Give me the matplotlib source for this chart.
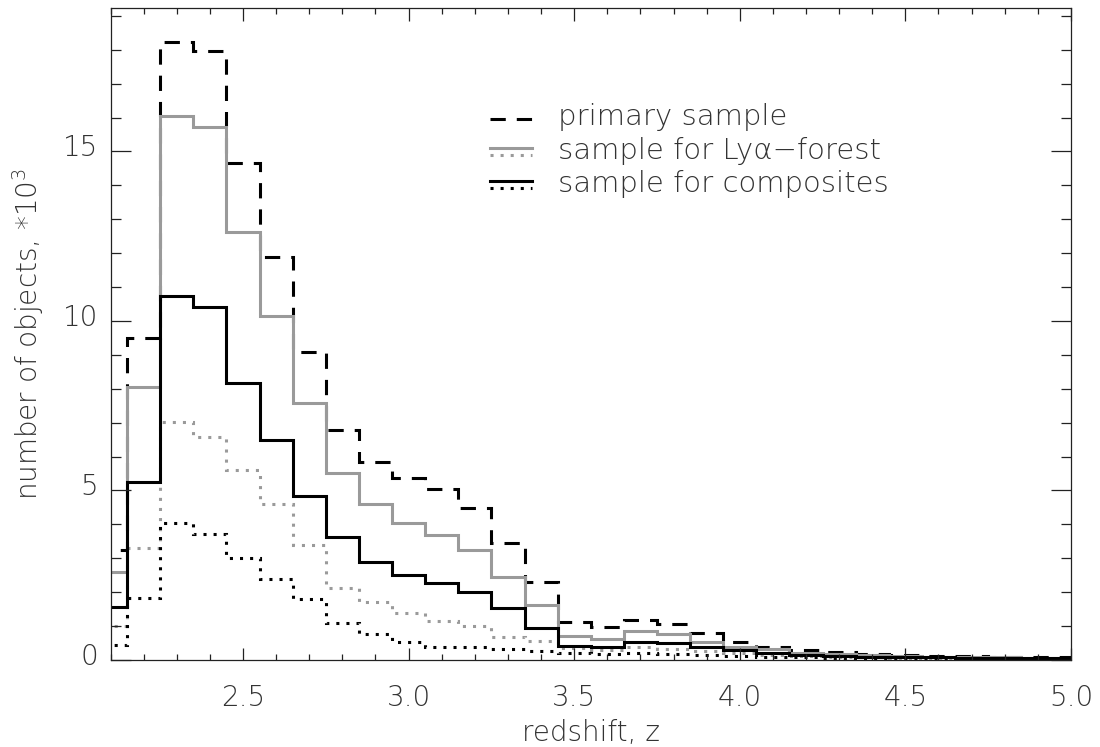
import numpy as np
import matplotlib
matplotlib.use("Agg")
import matplotlib.pyplot as plt
import matplotlib.transforms as mtransforms
from matplotlib.lines import Line2D

plt.rcParams['font.family'] = ['DejaVu Sans']
plt.rcParams['font.weight'] = 'light'
plt.rcParams['axes.labelweight'] = 'light'
plt.rcParams['mathtext.fontset'] = 'dejavusans'

# bin edges in redshift (0.1 wide), values in thousands of objects
edges = np.round(np.arange(2.05, 5.06, 0.1), 2)

primary = [3.25, 9.49, 18.24, 17.96, 14.65, 11.9, 9.07, 6.78, 5.83, 5.36,
           5.03, 4.47, 3.44, 2.31, 1.13, 0.96, 1.18, 1.06, 0.79, 0.53,
           0.39, 0.29, 0.23, 0.18, 0.15, 0.13, 0.11, 0.10, 0.09, 0.08]
lya_forest = [2.6, 8.06, 16.05, 15.71, 12.62, 10.15, 7.59, 5.51, 4.59, 4.03,
              3.69, 3.24, 2.44, 1.62, 0.72, 0.63, 0.86, 0.77, 0.54, 0.39,
              0.31, 0.22, 0.17, 0.14, 0.12, 0.10, 0.09, 0.08, 0.07, 0.06]
lya_forest_dot = [1.0, 3.29, 7.03, 6.59, 5.60, 4.59, 3.39, 2.13, 1.72, 1.40,
                  1.16, 1.01, 0.69, 0.57, 0.35, 0.30, 0.39, 0.33, 0.27, 0.20,
                  0.16, 0.12, 0.10, 0.08, 0.07, 0.06, 0.05, 0.05, 0.04, 0.04]
composites = [1.55, 5.24, 10.74, 10.42, 8.16, 6.49, 4.85, 3.62, 2.90, 2.51,
              2.26, 2.0, 1.52, 0.93, 0.41, 0.37, 0.54, 0.49, 0.39, 0.29,
              0.22, 0.16, 0.12, 0.10, 0.09, 0.08, 0.07, 0.06, 0.05, 0.05]
composites_dot = [0.45, 1.84, 4.03, 3.72, 3.02, 2.39, 1.79, 1.08, 0.77, 0.52,
                  0.39, 0.39, 0.32, 0.25, 0.20, 0.18, 0.20, 0.18, 0.15, 0.12,
                  0.10, 0.08, 0.07, 0.06, 0.05, 0.05, 0.04, 0.04, 0.03, 0.03]

legend_labels = ['primary sample', 'sample for Ly\u03b1\u2212forest',
                 'sample for composites']

gray = '#9a9a9a'
txtc = '#333333'
lw = 2.2
dash = (0, (5.0, 3.6))
dot = (0, (1.0, 2.3))

fig = plt.figure(figsize=(11, 7.47), dpi=100)
ax = fig.add_axes([0.1005, 0.1165, 0.8731, 0.8728])

ax.stairs(primary, edges, baseline=None, color='black', lw=lw, linestyle=dash)
ax.stairs(lya_forest, edges, baseline=None, color=gray, lw=lw)
ax.stairs(lya_forest_dot, edges, baseline=None, color=gray, lw=lw, linestyle=dot)
ax.stairs(composites, edges, baseline=None, color='black', lw=lw)
ax.stairs(composites_dot, edges, baseline=None, color='black', lw=lw, linestyle=dot)

ax.set_xlim(2.1, 5.0)
ax.set_ylim(0, 19.23)

ax.set_xticks([2.5, 3.0, 3.5, 4.0, 4.5, 5.0])
ax.set_xticklabels(['2.5', '3.0', '3.5', '4.0', '4.5', '5.0'])
ax.set_xticks(np.arange(2.1, 5.0, 0.1), minor=True)
ax.set_yticks([0, 5, 10, 15])
ax.set_yticks(np.arange(0, 20, 1), minor=True)

ax.tick_params(which='both', direction='in', top=True, right=True,
               width=0.9, colors='#222222', labelcolor=txtc, labelsize=20)
ax.tick_params(axis='x', which='major', length=9, pad=17)
ax.tick_params(axis='x', which='minor', length=4.5)
ax.tick_params(axis='y', which='major', length=14.5, pad=9)
ax.tick_params(axis='y', which='minor', length=7.2)

# IDL puts the y labels slightly above their ticks
off = mtransforms.ScaledTranslation(0, 6 / 100, fig.dpi_scale_trans)
for lab in ax.get_yticklabels():
    lab.set_transform(lab.get_transform() + off)

for sp in ax.spines.values():
    sp.set_linewidth(0.9)
    sp.set_color('#222222')

ax.set_xlabel('redshift, z', fontsize=20, color=txtc, fontweight='light',
              labelpad=5)
ax.set_ylabel(r'number of objects, *10$^3$', fontsize=20, color=txtc,
              fontweight='light', labelpad=12)

# legend: each sample drawn with its line style sample(s)
x0, x1, xt = 0.395, 0.439, 0.466
rows = [0.830, 0.778, 0.727]
ax.add_line(Line2D([x0, x1], [rows[0], rows[0]], transform=ax.transAxes,
                   color='black', lw=lw, linestyle=dash))
ax.add_line(Line2D([x0, x1], [rows[1] + 0.008, rows[1] + 0.008],
                   transform=ax.transAxes, color=gray, lw=lw))
ax.add_line(Line2D([x0, x1], [rows[1] - 0.004, rows[1] - 0.004],
                   transform=ax.transAxes, color=gray, lw=lw, linestyle=dot))
ax.add_line(Line2D([x0, x1], [rows[2] + 0.008, rows[2] + 0.008],
                   transform=ax.transAxes, color='black', lw=lw))
ax.add_line(Line2D([x0, x1], [rows[2] - 0.003, rows[2] - 0.003],
                   transform=ax.transAxes, color='black', lw=lw, linestyle=dot))
for r, txt in zip(rows, legend_labels):
    ax.text(xt, r + 0.003, txt, transform=ax.transAxes, fontsize=21,
            color=txtc, va='center', ha='left')

fig.savefig('out.png', dpi=100)
